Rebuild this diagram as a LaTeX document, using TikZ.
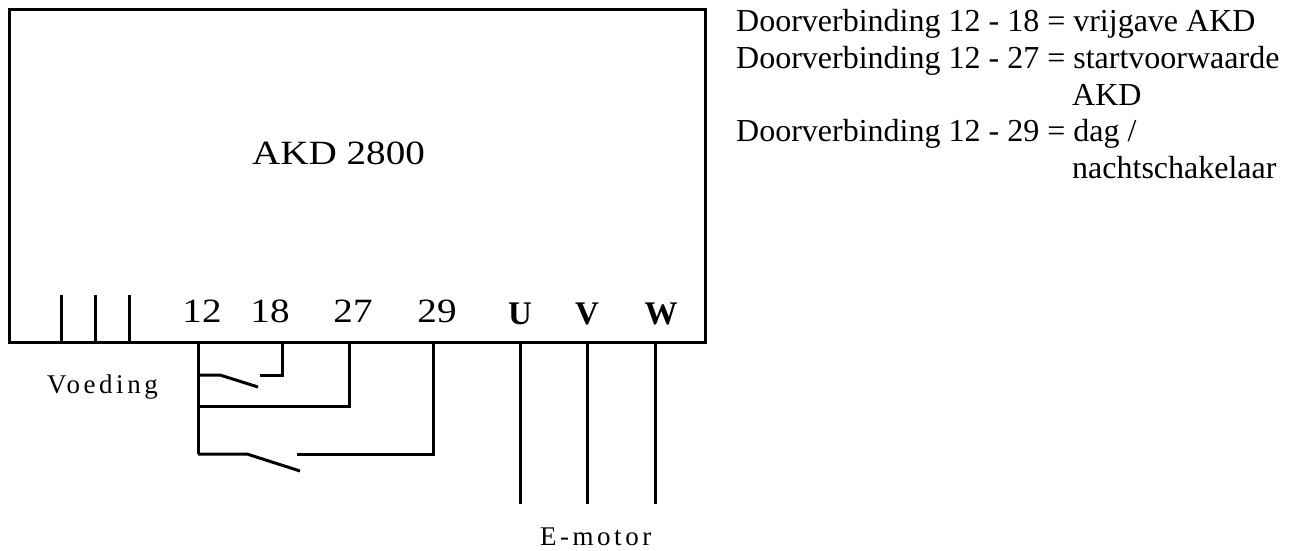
\documentclass[tikz,border=0pt]{standalone}
\usepackage{fontspec}
\usepackage{graphicx}
\setmainfont{Liberation Serif}
\newfontfamily\plainfont{Liberation Serif}[LetterSpace=13]
\newcommand\widetext[1]{\scalebox{1.15}[1]{#1}}
\tikzset{
  wire/.style={line width=3pt},
  pinlabel/.style={inner sep=0pt,anchor=base,font=\fontsize{34}{40}\selectfont},
  phase/.style={inner sep=0pt,anchor=base,font=\fontsize{33}{40}\selectfont\bfseries},
  caption/.style={inner sep=0pt,anchor=base west,font=\plainfont\fontsize{27}{32}\selectfont},
  note/.style={inner sep=0pt,anchor=base west,font=\fontsize{32}{36}\selectfont}
}
\begin{document}
\begin{tikzpicture}[x=1pt,y=-1pt]
\useasboundingbox (0,0) rectangle (1290,551);

\draw[wire] (9,10) rectangle (705,342);
\node[pinlabel,anchor=base west] (akd) at (252,164) {\widetext{AKD 2800}};

\coordinate (t12) at (198,342);
\coordinate (t18) at (282,342);
\coordinate (t27) at (349,342);
\coordinate (t29) at (433,342);
\coordinate (tu) at (520,342);
\coordinate (tv) at (587,342);
\coordinate (tw) at (655,342);

\node[pinlabel] (l12) at (202,322) {\widetext{12}};
\node[pinlabel] (l18) at (270,322) {\widetext{18}};
\node[pinlabel] (l27) at (353,322) {\widetext{27}};
\node[pinlabel] (l29) at (437,322) {\widetext{29}};
\node[phase] (lu) at (520,324) {U};
\node[phase] (lv) at (587,324) {V};
\node[phase] (lw) at (661,324) {W};

\draw[wire]
(61,295) -- (61,342)
(95,295) -- (95,342)
(129,295) -- (129,342);
\node[caption] (voeding) at (47,393) {Voeding};

\draw[wire] (t12) -- ++(0,112);
\draw[wire] (t18) -- ++(0,33) -- ++(-22,0);
\draw[wire] (198,375) -- (220,375) -- (258,387);
\draw[wire] (t27) |- (198,406);
\draw[wire] (t29) |- (297,454);
\draw[wire] (198,454) -- (247,454) -- (300,471);

\draw[wire] (tu) -- ++(0,162);
\draw[wire] (tv) -- ++(0,162);
\draw[wire] (tw) -- ++(0,162);
\node[caption] (emotor) at (540,545) {E-motor};

\node[note] (n1) at (736,32) {Doorverbinding 12 - 18 = vrijgave AKD};
\node[note] (n2) at (736,68.5) {Doorverbinding 12 - 27 = startvoorwaarde};
\node[note] (n3) at (1072,105) {AKD};
\node[note] (n4) at (736,141.5) {Doorverbinding 12 - 29 = dag /};
\node[note] (n5) at (1072,178) {nachtschakelaar};

\end{tikzpicture}
\end{document}
